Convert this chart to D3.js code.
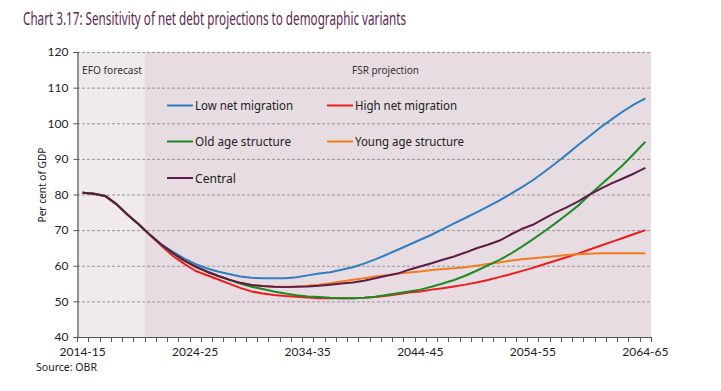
<!DOCTYPE html>
<html>
<head>
<meta charset="utf-8">
<script src="https://cdn.jsdelivr.net/npm/d3@7"></script>
<style>
  html, body { margin: 0; padding: 0; background: #ffffff; }
  svg { display: block; }
</style>
</head>
<body>
<svg id="chart" width="721" height="391"></svg>
<script>
const categories = [
  "2014-15","2015-16","2016-17","2017-18","2018-19","2019-20","2020-21","2021-22","2022-23","2023-24",
  "2024-25","2025-26","2026-27","2027-28","2028-29","2029-30","2030-31","2031-32","2032-33","2033-34",
  "2034-35","2035-36","2036-37","2037-38","2038-39","2039-40","2040-41","2041-42","2042-43","2043-44",
  "2044-45","2045-46","2046-47","2047-48","2048-49","2049-50","2050-51","2051-52","2052-53","2053-54",
  "2054-55","2055-56","2056-57","2057-58","2058-59","2059-60","2060-61","2061-62","2062-63","2063-64",
  "2064-65"
];
const xTickLabels = ["2014-15","2024-25","2034-35","2044-45","2054-55","2064-65"];
const yTicks = [40, 50, 60, 70, 80, 90, 100, 110, 120];

const lowNetMigration = [
  80.5, 80.2, 79.6, 77.3, 74.3, 71.6, 68.6, 66.0, 64.0, 62.1,
  60.5, 59.3, 58.4, 57.7, 57.0, 56.6, 56.5, 56.5, 56.5, 56.8,
  57.3, 57.8, 58.2, 58.9, 59.6, 60.6, 61.8, 63.1, 64.5, 65.9,
  67.3, 68.7, 70.3, 71.9, 73.4, 75.0, 76.6, 78.3, 80.1, 82.0,
  84.0, 86.3, 88.7, 91.2, 93.8, 96.3, 98.8, 101.1, 103.3, 105.3,
  107.0
];
const highNetMigration = [
  80.5, 80.2, 79.6, 77.3, 74.3, 71.6, 68.6, 65.6, 62.8, 60.6,
  58.6, 57.4, 56.2, 55.0, 53.8, 52.8, 52.2, 51.8, 51.5, 51.3,
  51.1, 50.9, 50.9, 50.9, 50.9, 51.0, 51.2, 51.6, 52.0, 52.5,
  52.8, 53.3, 53.7, 54.2, 54.7, 55.3, 56.0, 56.8, 57.6, 58.5,
  59.4, 60.4, 61.4, 62.4, 63.4, 64.5, 65.6, 66.7, 67.8, 68.9,
  70.0
];
const oldAgeStructure = [
  80.5, 80.2, 79.6, 77.3, 74.3, 71.6, 68.6, 65.9, 63.6, 61.5,
  59.8, 58.4, 57.2, 56.1, 55.0, 54.1, 53.5, 52.8, 52.2, 51.7,
  51.4, 51.2, 51.0, 50.9, 50.9, 51.0, 51.3, 51.8, 52.3, 52.8,
  53.3, 54.1, 55.0, 56.0, 57.2, 58.6, 60.1, 61.6, 63.3, 65.3,
  67.4, 69.6, 71.9, 74.3, 76.8, 79.8, 82.6, 85.4, 88.3, 91.5,
  94.8
];
const youngAgeStructure = [
  80.5, 80.2, 79.6, 77.3, 74.3, 71.6, 68.6, 65.9, 63.6, 61.5,
  59.8, 58.4, 57.2, 56.1, 55.2, 54.6, 54.3, 54.1, 54.1, 54.2,
  54.4, 54.7, 55.1, 55.6, 56.1, 56.5, 57.0, 57.3, 57.8, 58.1,
  58.4, 58.8, 59.1, 59.3, 59.6, 60.0, 60.5, 60.9, 61.4, 61.8,
  62.1, 62.4, 62.7, 63.0, 63.2, 63.4, 63.5, 63.5, 63.5, 63.5,
  63.5
];
const central = [
  80.5, 80.2, 79.6, 77.3, 74.3, 71.6, 68.6, 65.9, 63.6, 61.5,
  59.8, 58.4, 57.2, 56.1, 55.2, 54.6, 54.3, 54.1, 54.0, 54.1,
  54.2, 54.4, 54.7, 55.0, 55.3, 55.8, 56.5, 57.2, 57.8, 58.9,
  59.8, 60.7, 61.7, 62.6, 63.7, 64.9, 65.9, 67.0, 68.7, 70.3,
  71.5, 73.2, 74.9, 76.4, 78.0, 79.9, 81.6, 83.1, 84.5, 85.9,
  87.5
];

const seriesNames = ["Low net migration","High net migration","Old age structure","Young age structure","Central"];
const seriesColors = ["#2f7ec1","#ee1c1c","#1e8a24","#f47c20","#5c1c48"];
const seriesValues = [lowNetMigration, highNetMigration, oldAgeStructure, youngAgeStructure, central];
const efoLastCategory = "2019-20";

const svg = d3.select("#chart");
const plot = { left: 77, right: 651, top: 52, bottom: 337 };

const x = d3.scaleBand().domain(categories).range([plot.left, plot.right]).paddingInner(0).paddingOuter(0);
const y = d3.scaleLinear().domain([40, 120]).range([plot.bottom, plot.top]);
const cx = c => x(c) + x.bandwidth() / 2;

// Title
svg.append("text")
  .attr("x", 23).attr("y", 25)
  .attr("font-family", "'Noto Sans', sans-serif")
  .attr("font-size", 17.5)
  .attr("fill", "#5e2750")
  .attr("textLength", 383).attr("lengthAdjust", "spacingAndGlyphs")
  .text("Chart 3.17: Sensitivity of net debt projections to demographic variants");

// Background regions
const efoEndX = x(efoLastCategory) + x.bandwidth();
svg.append("rect")
  .attr("x", plot.left).attr("y", plot.top)
  .attr("width", efoEndX - plot.left).attr("height", plot.bottom - plot.top)
  .attr("fill", "#f0eaed");
svg.append("rect")
  .attr("x", efoEndX).attr("y", plot.top)
  .attr("width", plot.right - efoEndX).attr("height", plot.bottom - plot.top)
  .attr("fill", "#e7dce1");

// Gridlines
svg.append("g").selectAll("line")
  .data(yTicks.filter(t => t > 40))
  .join("line")
  .attr("x1", plot.left).attr("x2", plot.right)
  .attr("y1", d => y(d) + 0.5).attr("y2", d => y(d) + 0.5)
  .attr("stroke", "#9a9498").attr("stroke-width", 1)
  .attr("stroke-dasharray", "3,2");

// Region labels
svg.append("text")
  .attr("x", 82).attr("y", 73.5)
  .attr("font-family", "'Noto Sans', sans-serif").attr("font-size", 11)
  .attr("fill", "#333").attr("textLength", 60).attr("lengthAdjust", "spacingAndGlyphs")
  .text("EFO forecast");
svg.append("text")
  .attr("x", 352).attr("y", 73.5)
  .attr("font-family", "'Noto Sans', sans-serif").attr("font-size", 11)
  .attr("fill", "#333").attr("textLength", 67).attr("lengthAdjust", "spacingAndGlyphs")
  .text("FSR projection");

// Y axis
const yAxis = d3.axisLeft(y).tickValues(yTicks).tickSize(4).tickPadding(5).tickFormat(d3.format("d"));
const gy = svg.append("g").attr("transform", `translate(${plot.left + 0.5},0)`).call(yAxis);
gy.select(".domain").attr("stroke", "#555").attr("stroke-width", 1.2);
gy.selectAll(".tick line").attr("stroke", "#555");
gy.selectAll(".tick text")
  .attr("font-family", "Lato, 'Noto Sans', sans-serif").attr("font-size", 12).attr("fill", "#222");

// X axis: ticks at category boundaries, labels at category centres
const xAxisG = svg.append("g");
xAxisG.append("line")
  .attr("x1", plot.left).attr("x2", plot.right)
  .attr("y1", plot.bottom + 0.5).attr("y2", plot.bottom + 0.5)
  .attr("stroke", "#555").attr("stroke-width", 1.2);
const boundaries = categories.map(c => x(c)).concat([x(categories[categories.length - 1]) + x.bandwidth()]);
xAxisG.selectAll("line.tick")
  .data(boundaries)
  .join("line").attr("class", "tick")
  .attr("x1", d => Math.round(d) + 0.5).attr("x2", d => Math.round(d) + 0.5)
  .attr("y1", plot.bottom).attr("y2", plot.bottom + 5)
  .attr("stroke", "#555").attr("stroke-width", 1);
xAxisG.selectAll("text")
  .data(xTickLabels)
  .join("text")
  .attr("x", d => cx(d)).attr("y", 356)
  .attr("text-anchor", "middle")
  .attr("font-family", "Lato, 'Noto Sans', sans-serif").attr("font-size", 12).attr("fill", "#222")
  .text(d => d);

// Y axis title
svg.append("text")
  .attr("transform", "translate(46,185) rotate(-90)")
  .attr("text-anchor", "middle")
  .attr("font-family", "'Noto Sans', sans-serif").attr("font-size", 11)
  .attr("fill", "#222").attr("textLength", 75).attr("lengthAdjust", "spacingAndGlyphs")
  .text("Per cent of GDP");

// Source
svg.append("text")
  .attr("x", 36).attr("y", 371)
  .attr("font-family", "'Noto Sans', sans-serif").attr("font-size", 11.5)
  .attr("fill", "#222").attr("textLength", 61).attr("lengthAdjust", "spacingAndGlyphs")
  .text("Source: OBR");

// Lines
const line = d3.line().x((d, i) => cx(categories[i])).y(d => y(d)).curve(d3.curveLinear);
const drawOrder = [0, 1, 3, 2, 4];
svg.append("g").selectAll("path")
  .data(drawOrder)
  .join("path")
  .attr("d", k => line(seriesValues[k]))
  .attr("fill", "none")
  .attr("stroke", k => seriesColors[k])
  .attr("stroke-width", 2)
  .attr("stroke-linejoin", "round");

// Legend
const legendItems = [
  { k: 0, x: 167, y: 105.5, w: 98 },
  { k: 1, x: 327, y: 105.5, w: 102 },
  { k: 2, x: 167, y: 141.5, w: 96 },
  { k: 3, x: 327, y: 141.5, w: 109 },
  { k: 4, x: 167, y: 178, w: 41 }
];
const lg = svg.append("g").selectAll("g").data(legendItems).join("g")
  .attr("transform", d => `translate(${d.x},${d.y})`);
lg.append("line")
  .attr("x1", 0).attr("x2", 26).attr("y1", 0).attr("y2", 0)
  .attr("stroke", d => seriesColors[d.k]).attr("stroke-width", 2);
lg.append("text")
  .attr("x", 28).attr("y", 4.5)
  .attr("font-family", "'Noto Sans', sans-serif").attr("font-size", 12.5)
  .attr("fill", "#222")
  .attr("textLength", d => d.w).attr("lengthAdjust", "spacingAndGlyphs")
  .text(d => seriesNames[d.k]);
</script>
</body>
</html>
